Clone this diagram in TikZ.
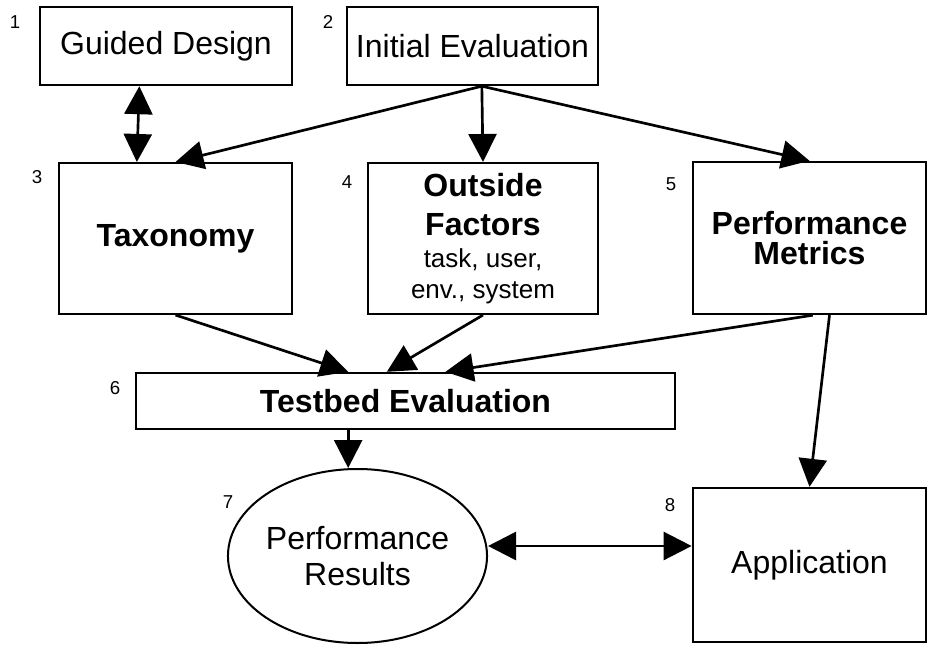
\documentclass[tikz,border=0pt]{standalone}
\usepackage{fontspec}
\setmainfont{Liberation Sans}
\usetikzlibrary{arrows.meta,shapes.geometric}

\tikzset{
  stage/.style={draw,line width=1.8pt,inner sep=0pt,align=center,font=\fontsize{24}{23}\selectfont},
  results/.style={ellipse,draw,line width=1.5pt,inner sep=0pt,align=center,font=\fontsize{24}{27}\selectfont},
  stagenum/.style={font=\fontsize{14}{14}\selectfont},
  flow/.style={line width=2pt,-{Triangle[length=21pt,width=21pt]}},
  twoway/.style={line width=2pt,{Triangle[length=21pt,width=21pt]}-{Triangle[length=21pt,width=21pt]}},
}

\begin{document}
\begin{tikzpicture}[x=0.75pt,y=-0.75pt]
	\useasboundingbox (0,0) rectangle (932,656);
	% boxes of the method
	\node[stage,minimum width=189pt,minimum height=58.5pt] (gd) at (166,46) {Guided Design};
	\node[stage,minimum width=188pt,minimum height=58.5pt] (ie) at (472.5,46) {Initial Evaluation};
	\node[stage,minimum width=175pt,minimum height=113pt,font=\fontsize{24}{23}\selectfont\bfseries] (tax) at (175.5,238.5) {Taxonomy};
	\node[stage,minimum width=172.5pt,minimum height=113pt] (of) at (483,238.5)
	  {{\bfseries Outside}\\[6pt]{\bfseries Factors}\\[1pt]{\fontsize{19.5}{23}\selectfont task, user,}\\{\fontsize{19.5}{23}\selectfont env., system}};
	\node[stage,minimum width=175pt,minimum height=114pt,font=\fontsize{24}{22.5}\selectfont\bfseries] (pm) at (809.5,238) {Performance\\Metrics};
	\node[stage,minimum width=404pt,minimum height=42pt,font=\fontsize{24}{23}\selectfont\bfseries] (tb) at (405.5,401) {Testbed Evaluation};
	\node[results,minimum width=188pt,minimum height=130.5pt] (pr) at (357.5,556) {Performance\\Results};
	\node[stage,minimum width=175pt,minimum height=115.5pt] (app) at (809.5,565) {Application};
	% numbers
	\node[stagenum] (n1) at (15,22) {1};
	\node[stagenum] (n2) at (328,22) {2};
	\node[stagenum] (n3) at (37,177) {3};
	\node[stagenum] (n4) at (347,182) {4};
	\node[stagenum] (n5) at (671,184) {5};
	\node[stagenum] (n6) at (115,388) {6};
	\node[stagenum] (n7) at (228,502) {7};
	\node[stagenum] (n8) at (670,505) {8};
	% arrows
	\coordinate (ie-out) at ([xshift=7pt]ie.south);
	\draw[twoway] ([xshift=-20pt]gd.south) -- ([xshift=-29pt]tax.north);
	\draw[flow] (ie-out) -- (tax.north);
	\draw[flow] (ie-out) -- (of.north);
	\draw[flow] (ie-out) -- (pm.north);
	\draw[flow] (tax.south) -- ([xshift=-43pt]tb.north);
	\draw[flow] (of.south) -- ([xshift=-14pt]tb.north);
	\draw[flow] ([xshift=2.5pt]pm.south) -- ([xshift=30pt]tb.north);
	\draw[flow] ([xshift=15pt]pm.south) -- (app.north);
	\draw[flow] ([xshift=-43pt]tb.south) -- ([xshift=-43pt]tb.south |- pr.north);
	\draw[twoway] ([yshift=7.5pt]pr.east) -- ([yshift=7.5pt]pr.east -| app.west);
\end{tikzpicture}
\end{document}
